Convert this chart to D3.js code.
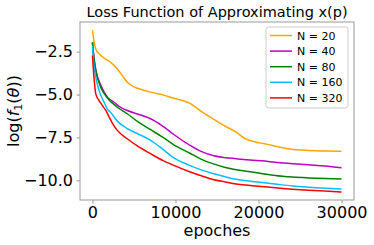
<!DOCTYPE html>
<html>
<head>
<meta charset="utf-8">
<script src="https://cdn.jsdelivr.net/npm/d3@7"></script>
<style>
  body { margin: 0; background: #fff; }
  text { font-family: "DejaVu Sans", sans-serif; }
</style>
</head>
<body>
<div id="chart"></div>
<script>
// data (epoch, log loss)
var n20 = [[0,-1.24],[200,-1.95],[400,-2.34],[800,-2.62],[1500,-2.9],[2200,-3.12],[3000,-3.51],[3600,-3.9],[4200,-4.28],[5000,-4.55],[6000,-4.72],[7000,-4.86],[8500,-5.02],[9700,-5.2],[10500,-5.3],[11700,-5.5],[13000,-5.95],[14500,-6.41],[16000,-6.85],[17300,-7.19],[18300,-7.55],[19500,-7.75],[20700,-7.87],[21700,-7.97],[22900,-8.1],[24500,-8.22],[26100,-8.26],[28000,-8.29],[30000,-8.31]];
var n40 = [[0,-1.96],[150,-2.7],[400,-3.55],[1000,-4.45],[1800,-5.15],[2600,-5.45],[3400,-5.75],[4200,-5.93],[5500,-6.15],[7000,-6.41],[8500,-6.85],[9800,-7.33],[11700,-7.95],[13000,-8.3],[14500,-8.55],[16000,-8.68],[17300,-8.74],[19000,-8.82],[20700,-8.88],[22000,-8.95],[24100,-9.03],[26000,-9.1],[28000,-9.17],[30000,-9.27]];
var n80 = [[0,-1.96],[120,-2.63],[400,-3.6],[1000,-4.57],[1800,-5.2],[3000,-5.74],[4200,-6.12],[5500,-6.6],[7000,-7.05],[8500,-7.5],[9800,-7.93],[11700,-8.41],[13000,-8.75],[14500,-9.03],[16000,-9.25],[17300,-9.38],[19000,-9.5],[20700,-9.63],[22000,-9.72],[24100,-9.81],[26000,-9.86],[28000,-9.9],[30000,-9.93]];
var n160 = [[0,-2.15],[120,-3.02],[400,-3.99],[800,-4.77],[1400,-5.45],[1800,-5.85],[2200,-6.05],[3000,-6.55],[4200,-6.99],[5500,-7.3],[7000,-7.67],[8500,-8.2],[9800,-8.7],[11700,-9.13],[13000,-9.38],[14500,-9.61],[16000,-9.8],[17300,-9.94],[19000,-10.05],[20700,-10.15],[22000,-10.22],[24100,-10.33],[26000,-10.4],[28000,-10.46],[30000,-10.51]];
var n320 = [[0,-2.73],[200,-4.09],[400,-4.96],[800,-5.35],[1200,-5.64],[1600,-5.93],[2000,-6.3],[2500,-6.75],[3000,-7.09],[4200,-7.58],[5400,-8.0],[7000,-8.45],[8500,-8.85],[9800,-9.13],[11700,-9.5],[13000,-9.72],[14500,-9.95],[16000,-10.1],[17300,-10.22],[19000,-10.3],[20700,-10.38],[22000,-10.44],[24100,-10.52],[26000,-10.58],[28000,-10.63],[30000,-10.68]];

var seriesNames = ["N = 20", "N = 40", "N = 80", "N = 160", "N = 320"];
var seriesData = [n20, n40, n80, n160, n320];
var colors = ["#ffa500", "#bf00bf", "#008000", "#00bfff", "#ff0000"];
var xTicks = [0, 10000, 20000, 30000];
var yTicks = [-2.5, -5.0, -7.5, -10.0];

var width = 374, height = 245;
var margin = {top: 22, right: 20, bottom: 45, left: 80};

var svg = d3.select("#chart").append("svg")
    .attr("width", width)
    .attr("height", height);

var x = d3.scaleLinear().domain([-1500, 31500]).range([margin.left, width - margin.right]);
var y = d3.scaleLinear().domain([-11.15, -0.77]).range([height - margin.bottom, margin.top]);

// plot lines
var line = d3.line()
    .x(function(d){ return x(d[0]); })
    .y(function(d){ return y(d[1]); })
    .curve(d3.curveMonotoneX);

seriesData.forEach(function(s, i){
    svg.append("path")
        .datum(s)
        .attr("fill", "none")
        .attr("stroke", colors[i])
        .attr("stroke-width", 1.5)
        .attr("d", line);
});

// frame
svg.append("rect")
    .attr("x", margin.left)
    .attr("y", margin.top)
    .attr("width", width - margin.right - margin.left)
    .attr("height", height - margin.bottom - margin.top)
    .attr("fill", "none")
    .attr("stroke", "#999")
    .attr("stroke-width", 1);

var xAxis = svg.append("g")
    .attr("transform", "translate(0," + (height - margin.bottom) + ")")
    .call(d3.axisBottom(x).tickValues(xTicks).tickSize(3.5).tickPadding(3.5).tickFormat(d3.format("d")));
var yAxis = svg.append("g")
    .attr("transform", "translate(" + margin.left + ",0)")
    .call(d3.axisLeft(y).tickValues(yTicks).tickSize(3.5).tickPadding(3.5).tickFormat(d3.format(".1f")));

[xAxis, yAxis].forEach(function(a){
    a.select(".domain").remove();
    a.selectAll(".tick line").attr("stroke", "#999");
    a.selectAll(".tick text")
        .attr("fill", "#000")
        .style("font-family", "DejaVu Sans")
        .style("font-size", "16px");
});

// title and labels
svg.append("text")
    .attr("x", (margin.left + width - margin.right) / 2)
    .attr("y", 17)
    .attr("text-anchor", "middle")
    .style("font-size", "14.5px")
    .text("Loss Function of Approximating x(p)");

svg.append("text")
    .attr("x", (margin.left + width - margin.right) / 2)
    .attr("y", 236)
    .attr("text-anchor", "middle")
    .style("font-size", "16px")
    .text("epoches");

var yl = svg.append("text")
    .attr("transform", "translate(19," + (margin.top + (height - margin.bottom - margin.top) / 2) + ") rotate(-90)")
    .attr("text-anchor", "middle")
    .style("font-size", "16px");
yl.append("tspan").text("log(");
yl.append("tspan").style("font-style", "italic").text("f");
yl.append("tspan").attr("dy", 3).style("font-size", "11px").text("1");
yl.append("tspan").attr("dy", -3).text("(");
yl.append("tspan").style("font-style", "italic").text("θ");
yl.append("tspan").text("))");

// legend
var lg = svg.append("g").attr("transform", "translate(266,27)");
lg.append("rect")
    .attr("width", 82).attr("height", 81)
    .attr("rx", 2.5)
    .attr("fill", "#fff").attr("fill-opacity", 0.8)
    .attr("stroke", "#ccc").attr("stroke-width", 1);

seriesNames.forEach(function(name, i){
    var yy = 8.5 + i * 15.6;
    lg.append("line")
        .attr("x1", 4).attr("x2", 26)
        .attr("y1", yy).attr("y2", yy)
        .attr("stroke", colors[i]).attr("stroke-width", 1.5);
    lg.append("text")
        .attr("x", 31).attr("y", yy + 4)
        .style("font-size", "11px")
        .text(name);
});
</script>
</body>
</html>
